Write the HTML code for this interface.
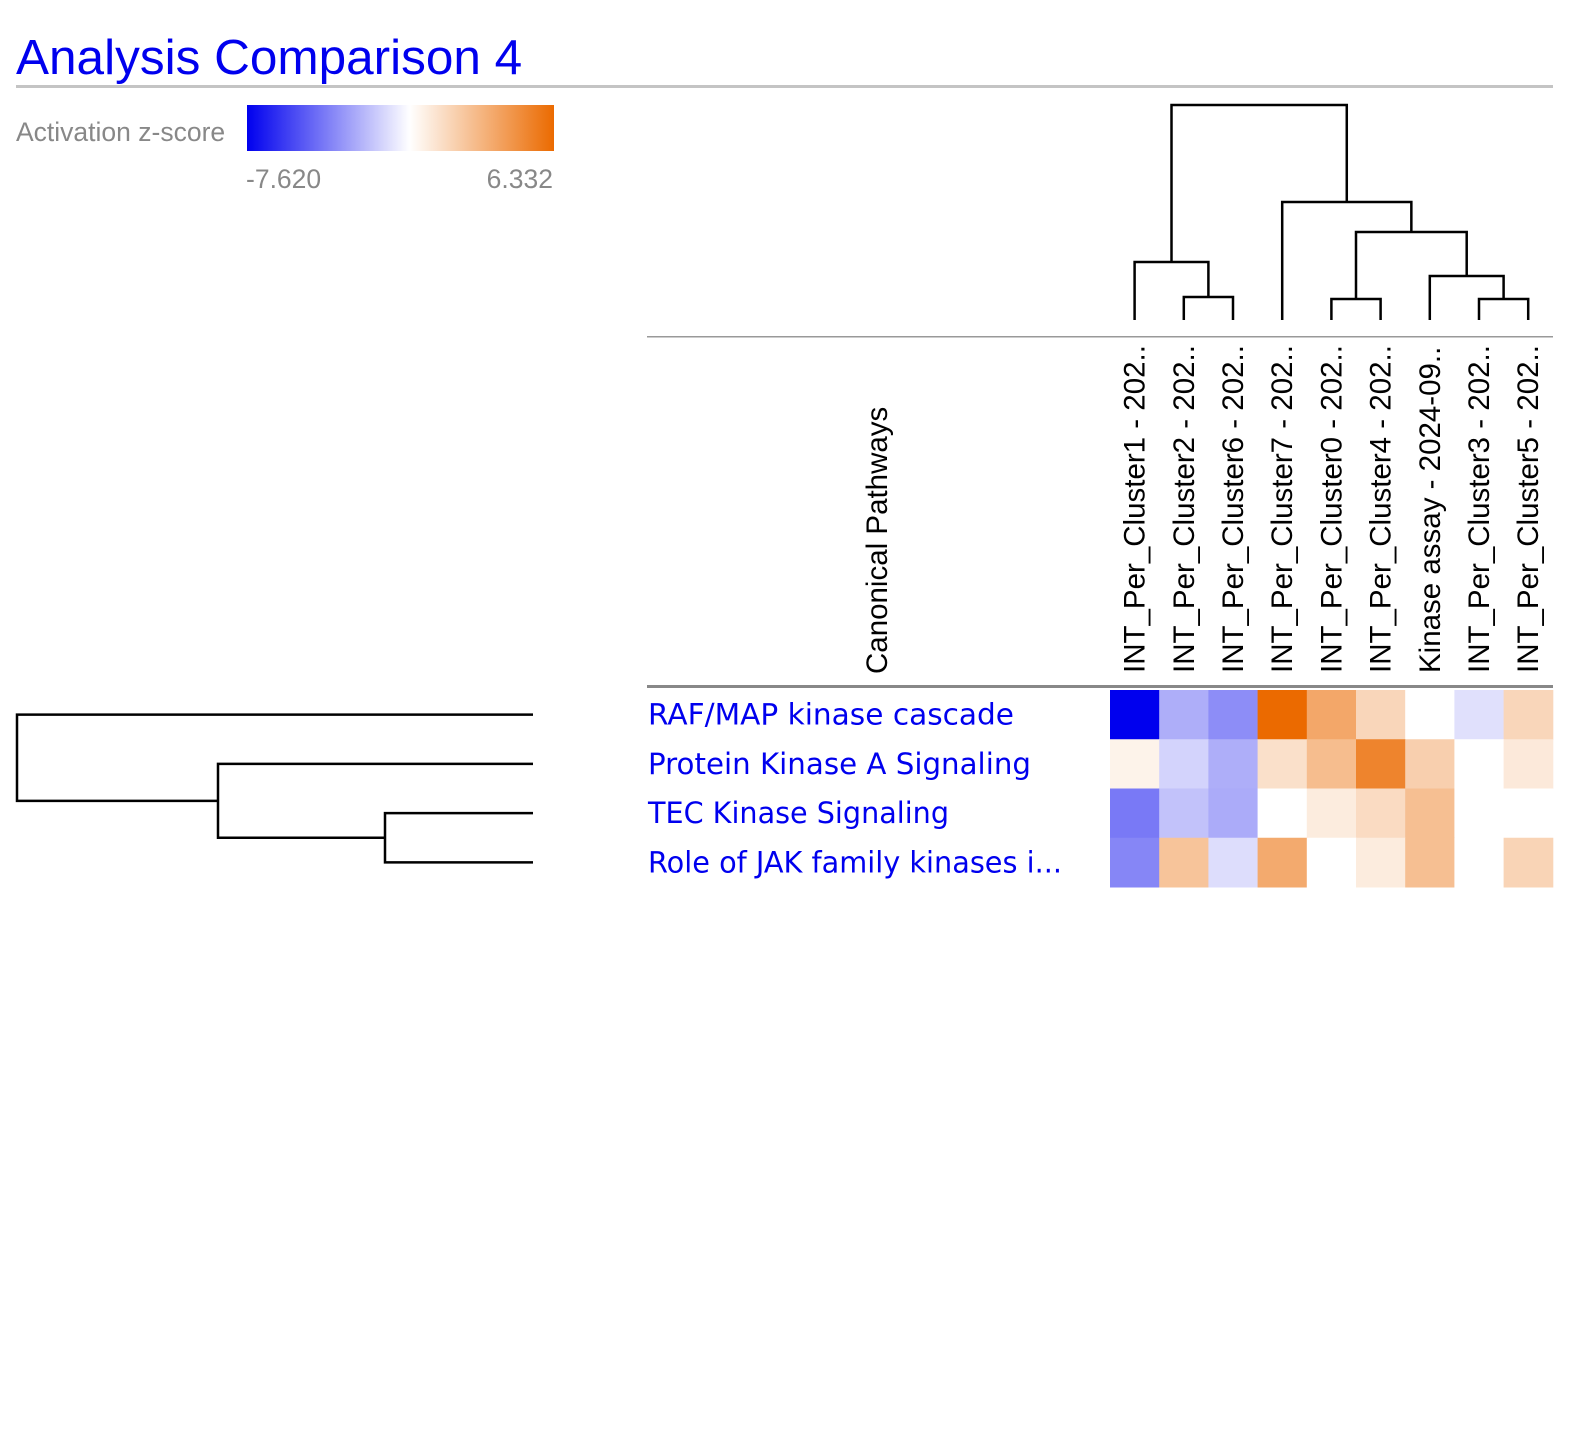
<!DOCTYPE html>
<html><head><meta charset="utf-8"><style>
body{margin:0;background:#fff;}
svg{display:block;font-family:"Liberation Sans",sans-serif;}
</style></head><body>
<svg id="chart" width="1590" height="1450">
<text x="16" y="74" font-size="49.5" fill="#0000ee">Analysis Comparison 4</text>
<rect x="16" y="85" width="1537" height="3" fill="#c4c4c4"/>
<text x="16" y="141" font-size="26.5" fill="#888">Activation z-score</text>
<defs><linearGradient id="g" x1="0" x2="1"><stop offset="0" stop-color="#0000ee"/><stop offset="0.53" stop-color="#fff"/><stop offset="1" stop-color="#eb6a00"/></linearGradient></defs>
<rect x="247" y="105" width="307" height="46" fill="url(#g)"/>
<text id="minL" x="246" y="188" font-size="26.5" fill="#888"></text>
<text id="maxL" x="553" y="188" font-size="26.5" fill="#888" text-anchor="end"></text>
<rect x="647" y="336" width="906" height="1.5" fill="#999"/>
<rect x="647" y="685" width="906" height="3" fill="#888"/>
<text transform="translate(887,674) rotate(-90)" font-size="29.5" fill="#000">Canonical Pathways</text>
<g id="cells"></g><g id="labels"></g><g id="dendro" stroke="#000" stroke-width="2.5" fill="none"></g>
</svg>
<script>
const minVal = -7.620;
const maxVal = 6.332;
const columns = ["INT_Per_Cluster1 - 202..","INT_Per_Cluster2 - 202..","INT_Per_Cluster6 - 202..","INT_Per_Cluster7 - 202..","INT_Per_Cluster0 - 202..","INT_Per_Cluster4 - 202..","Kinase assay - 2024-09..","INT_Per_Cluster3 - 202..","INT_Per_Cluster5 - 202.."];
const rows = ["RAF/MAP kinase cascade","Protein Kinase A Signaling","TEC Kinase Signaling","Role of JAK family kinases i..."];
const row1 = [-7.62,-2.4,-3.4,6.33,3.7,1.7,null,-0.9,1.7];
const row2 = [0.5,-1.3,-2.4,1.3,2.8,5.2,2.0,null,0.9];
const row3 = [-4.0,-1.8,-2.5,0,0.8,1.5,2.7,null,null];
const row4 = [-3.6,2.5,-1.0,3.6,null,0.8,2.7,null,1.8];
const values = [row1,row2,row3,row4];
const NS="http://www.w3.org/2000/svg";
document.getElementById('minL').textContent=minVal.toFixed(3);
document.getElementById('maxL').textContent=maxVal.toFixed(3);
const x0=1110, cw=49.2, y0=690, rh=49.25;
const xC=i=>x0+cw*i, yR=j=>y0+rh*j;
function color(v){
  if(v===null) return '#fff';
  let r,g,b;
  if(v<0){const t=Math.min(1,v/minVal);r=255*(1-t);g=255*(1-t);b=255-17*t;}
  else{const t=Math.min(1,v/maxVal);r=255-20*t;g=255-149*t;b=255*(1-t);}
  return `rgb(${r|0},${g|0},${b|0})`;
}
const cg=document.getElementById('cells'), lg=document.getElementById('labels'), dg=document.getElementById('dendro');
values.forEach((row,j)=>row.forEach((v,i)=>{
  const r=document.createElementNS(NS,'rect');
  r.setAttribute('x',xC(i));r.setAttribute('y',yR(j));r.setAttribute('width',cw+0.5);r.setAttribute('height',rh+0.5);
  r.setAttribute('fill',color(v));
  
  
  cg.appendChild(r);
}));
columns.forEach((c,i)=>{
  const t=document.createElementNS(NS,'text');
  t.setAttribute('transform',`translate(${xC(i)+cw/2+10},673) rotate(-90)`);
  t.setAttribute('font-size','29.5');t.textContent=c;
  
  
  lg.appendChild(t);
});
rows.forEach((r,j)=>{
  const t=document.createElementNS(NS,'text');
  t.setAttribute('x',648);t.setAttribute('y',yR(j)+rh/2+10);
  t.setAttribute('font-size','29');t.setAttribute('fill','#0000ee');
  t.setAttribute('font-family','"DejaVu Sans",sans-serif');
  t.setAttribute('textLength', [366,383,301,414][j]);
  t.setAttribute('lengthAdjust','spacingAndGlyphs');
  t.textContent=r;
  
  
  lg.appendChild(t);
});
function path(d){const p=document.createElementNS(NS,'path');p.setAttribute('d',d);
  
  
  dg.appendChild(p);}
const cx=i=>xC(i)+cw/2, lb=320;
function U(xa,ya,xb,yb,yt){path(`M${xa},${ya}V${yt}H${xb}V${yb}`);}
U(cx(1),lb,cx(2),lb,297);
U(cx(0),lb,(cx(1)+cx(2))/2,297,262);
U(cx(4),lb,cx(5),lb,299);
U(cx(7),lb,cx(8),lb,299);
U(cx(6),lb,(cx(7)+cx(8))/2,299,276);
const a=(cx(4)+cx(5))/2, b=(cx(6)+(cx(7)+cx(8))/2)/2;
U(a,299,b,276,232);
const c=(a+b)/2;
U(cx(3),lb,c,232,202);
const l=(cx(0)+(cx(1)+cx(2))/2)/2, r=(cx(3)+c)/2;
U(l,262,r,202,105);
const ry=j=>yR(j)+rh/2, le=533;
function L(ya,xa,yb,xb,xt){path(`M${xa},${ya}H${xt}V${yb}H${xb}`);}
L(ry(2),le,ry(3),le,385);
const m1=(ry(2)+ry(3))/2;
L(ry(1),le,m1,385,218);
const m2=(ry(1)+m1)/2;
L(ry(0),le,m2,218,17);
</script>
</body></html>
